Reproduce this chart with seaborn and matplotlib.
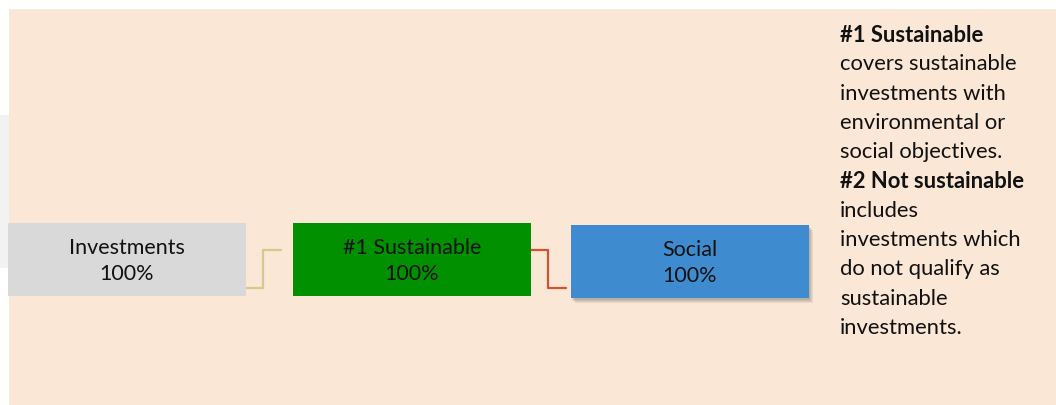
import matplotlib.pyplot as plt
import seaborn as sns
from matplotlib.patches import Rectangle

# Diagram content
box_labels = ['Investments', '#1 Sustainable', 'Social']
box_values = ['100%', '100%', '100%']
box_colors = ['#D9D9D9', '#009000', '#3F8BCF']
link_colors = ['#D5C98C', '#D2532F']

note_lines = [
    ('#1 Sustainable', 'bold'),
    ('covers sustainable', 'normal'),
    ('investments with', 'normal'),
    ('environmental or', 'normal'),
    ('social objectives.', 'normal'),
    ('#2 Not sustainable', 'bold'),
    ('includes', 'normal'),
    ('investments which', 'normal'),
    ('do not qualify as', 'normal'),
    ('sustainable', 'normal'),
    ('investments.', 'normal'),
]

# Layout (pixel coordinates, y downward)
box_x = [8, 293, 571]
box_y = [223, 223, 225]
box_w = 238
box_h = 73

sns.set_theme(style='white')
plt.rcParams['font.family'] = ['Lato', 'DejaVu Sans']

fig = plt.figure(figsize=(10.56, 4.05), dpi=100)
ax = fig.add_axes([0, 0, 1, 1])
ax.set_xlim(0, 1056)
ax.set_ylim(405, 0)
ax.axis('off')

# background panels
ax.add_patch(Rectangle((0, 115), 10, 153, color='#F2F2F2', lw=0, zorder=0))
ax.add_patch(Rectangle((9, 9), 1047, 396, color='#FAE7D6', lw=0, zorder=0))

# soft shadow behind the last box
for i, a in enumerate([0.10, 0.10, 0.12, 0.14]):
    off = 5 - i
    ax.add_patch(Rectangle((box_x[2] + off - 1, box_y[2] + off), box_w, box_h,
                           color='#5a5a5a', alpha=a, lw=0, zorder=1))

for x, y, lab, val, col in zip(box_x, box_y, box_labels, box_values, box_colors):
    ax.add_patch(Rectangle((x, y), box_w, box_h, color=col, lw=0, zorder=2))
    cx = x + box_w / 2
    ax.text(cx, y + 25, lab, ha='center', va='center', fontsize=15.5, color='#111111', zorder=3)
    ax.text(cx, y + 51, val, ha='center', va='center', fontsize=15.5, color='#111111', zorder=3)

# elbow connectors
ax.plot([246, 263, 263, 281], [288, 288, 250, 250], color=link_colors[0], lw=1.6, zorder=1)
ax.plot([531, 548, 548, 566], [250, 250, 288, 288], color=link_colors[1], lw=1.6, zorder=1)

# explanatory note
y0 = 35
for i, (line, weight) in enumerate(note_lines):
    ax.text(840, y0 + i * 29.3, line, ha='left', va='center', fontsize=15.8,
            fontweight=weight, color='#111111')

fig.savefig('out.png', dpi=100)
